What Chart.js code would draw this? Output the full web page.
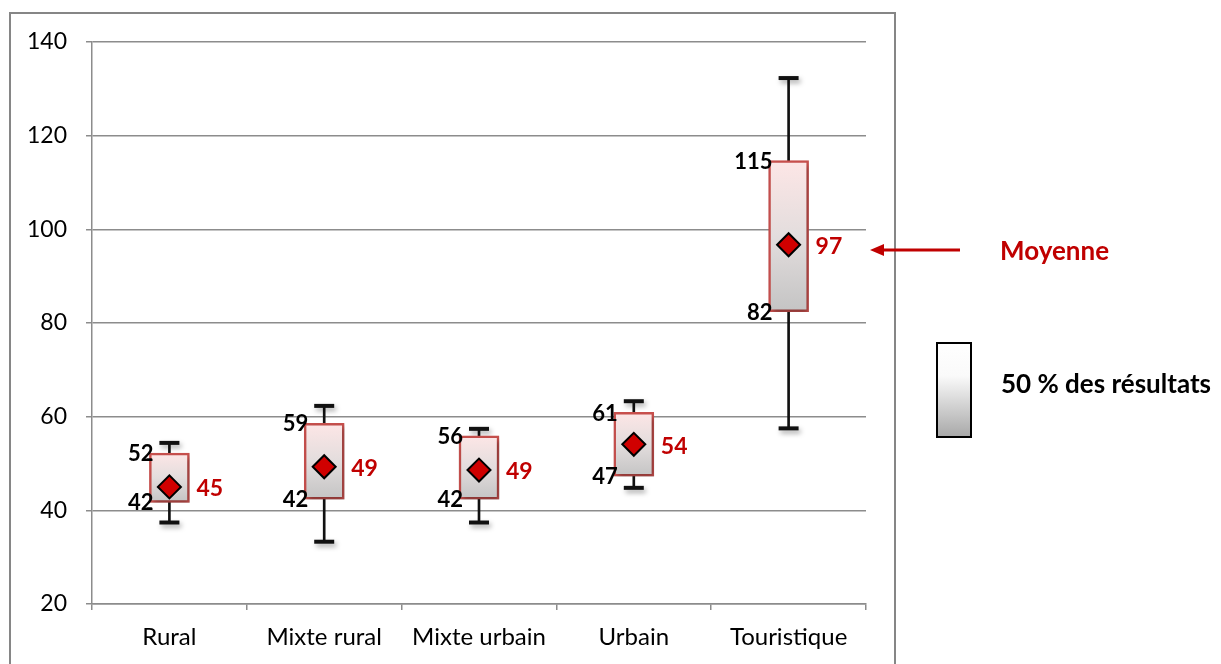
<!DOCTYPE html>
<html><head><meta charset="utf-8">
<script src="https://cdn.jsdelivr.net/npm/chart.js@4.4.1/dist/chart.umd.min.js"></script>
<style>html,body{margin:0;padding:0;background:#fff;} #wrap{width:1221px;height:664px;}</style>
</head><body><div id="wrap"><canvas id="c" width="1221" height="664"></canvas></div>
<script>
const categories = ['Rural', 'Mixte rural', 'Mixte urbain', 'Urbain', 'Touristique'];
const whiskerLow = [37.4, 33.3, 37.4, 44.8, 57.5];
const quartile1 = [41.7, 42.4, 42.4, 47.3, 82.4];
const quartile3 = [52.2, 58.6, 55.9, 60.9, 114.7];
const whiskerHigh = [54.4, 62.3, 57.4, 63.3, 132.3];
const means = [45.0, 49.3, 48.6, 54.1, 96.7];
const yTicks = [20, 40, 60, 80, 100, 120, 140];
const legendMean = 'Moyenne';
const legendBox = '50 % des résultats';

const FONT = 'Lato, "Open Sans", sans-serif';
const RED = '#c00000';

const shadowPlugin = {
  id: 'shadow',
  beforeDatasetDraw(chart, args) {
    if (args.index >= 1 && args.index <= 3) {
      const c = chart.ctx; c.save();
      c.shadowColor = 'rgba(0,0,0,0.35)'; c.shadowBlur = 5; c.shadowOffsetX = 2; c.shadowOffsetY = 3;
    }
  },
  afterDatasetDraw(chart, args) {
    if (args.index >= 1 && args.index <= 3) chart.ctx.restore();
  }
};

const labelPlugin = {
  id: 'labels',
  afterDatasetsDraw(chart) {
    const c = chart.ctx, xs = chart.scales.x, ys = chart.scales.y;
    c.save();
    c.textBaseline = 'middle';
    categories.forEach((cat, i) => {
      const x = xs.getPixelForValue(i);
      c.fillStyle = '#000'; c.font = 'bold 22px ' + FONT; c.textAlign = 'right';
      c.fillText(String(Math.round(quartile3[i])), x - 16, ys.getPixelForValue(quartile3[i]) + 1);
      c.fillText(String(Math.round(quartile1[i])), x - 16, ys.getPixelForValue(quartile1[i]) + 1);
      c.fillStyle = RED; c.font = 'bold 23px ' + FONT; c.textAlign = 'left';
      c.fillText(String(Math.round(means[i])), x + 27, ys.getPixelForValue(means[i]) + 2);
    });
    c.restore();
  },
  afterDraw(chart) {
    const c = chart.ctx;
    c.save();
    // outer frame
    c.strokeStyle = '#868686'; c.lineWidth = 2;
    c.strokeRect(10, 13, 885, 700);
    // arrow for mean
    c.strokeStyle = RED; c.lineWidth = 3;
    c.beginPath(); c.moveTo(960, 250); c.lineTo(880, 250); c.stroke();
    c.fillStyle = RED;
    c.beginPath(); c.moveTo(870, 250); c.lineTo(884, 244); c.lineTo(884, 256); c.closePath(); c.fill();
    c.font = 'bold 26px ' + FONT; c.textBaseline = 'middle'; c.textAlign = 'left';
    c.fillText(legendMean, 1000, 252);
    // legend box
    const g = c.createLinearGradient(0, 343, 0, 437);
    g.addColorStop(0, '#ffffff'); g.addColorStop(0.35, '#fafafa'); g.addColorStop(1, '#a8a8a8');
    c.fillStyle = g; c.fillRect(937, 343, 34, 94);
    c.strokeStyle = '#000'; c.lineWidth = 2; c.strokeRect(937, 343, 34, 94);
    c.fillStyle = '#000'; c.font = 'bold 26px ' + FONT;
    c.fillText(legendBox, 1001, 385);
    c.restore();
  }
};

new Chart(document.getElementById('c'), {
  type: 'bar',
  data: {
    labels: categories,
    datasets: [
      {
        type: 'line', data: means, showLine: false, order: 0,
        pointStyle: 'rectRot', pointRadius: 11.5, pointHoverRadius: 11.5,
        pointBackgroundColor: '#d00000', pointBorderColor: '#000', pointBorderWidth: 2
      },
      {
        type: 'bar', data: quartile1.map((q, i) => [q, quartile3[i]]), order: 1,
        grouped: false, barThickness: 40, borderWidth: 2.5, borderColor: '#c8504d', borderSkipped: false,
        backgroundColor: (ctx) => {
          const ch = ctx.chart, ys = ch.scales.y;
          if (ctx.type !== 'data' || !ys || !Array.isArray(ctx.raw)) return '#e0e0e0';
          const top = ys.getPixelForValue(ctx.raw[1]), bot = ys.getPixelForValue(ctx.raw[0]);
          if (!isFinite(top) || !isFinite(bot) || top === bot) return '#e0e0e0';
          const g = ch.ctx.createLinearGradient(0, top, 0, bot);
          g.addColorStop(0, '#fde6e6'); g.addColorStop(0.5, '#e3dddd'); g.addColorStop(1, '#c4c4c4');
          return g;
        }
      },
      {
        type: 'line', data: whiskerHigh, showLine: false, order: 2,
        pointStyle: 'line', pointRadius: 10, pointHoverRadius: 10,
        pointBorderColor: '#111', pointBorderWidth: 4
      },
      {
        type: 'line', data: whiskerLow, showLine: false, order: 3,
        pointStyle: 'line', pointRadius: 10, pointHoverRadius: 10,
        pointBorderColor: '#111', pointBorderWidth: 4
      },
      {
        type: 'bar', data: whiskerLow.map((v, i) => [v, whiskerHigh[i]]), order: 4,
        grouped: false, barThickness: 2, backgroundColor: '#111', borderWidth: 0
      }
    ]
  },
  options: {
    responsive: false, animation: false,
    layout: { padding: { left: 0, right: 355, top: 42, bottom: 0 } },
    plugins: { legend: { display: false }, tooltip: { enabled: false } },
    scales: {
      x: {
        offset: true,
        afterFit: (s) => { s.height = 60; },
        grid: { offset: true, drawOnChartArea: false, drawTicks: true, tickLength: 6, color: '#8c8c8c', lineWidth: 1.5 },
        border: { color: '#8c8c8c', width: 1.5 },
        ticks: { color: '#000', font: { family: FONT, size: 24 }, padding: 13, maxRotation: 0, autoSkip: false }
      },
      y: {
        min: 20, max: 140,
        afterFit: (s) => { s.width = 92; },
        afterBuildTicks: (s) => { s.ticks = yTicks.map(v => ({ value: v })); },
        grid: { color: '#8c8c8c', lineWidth: 1.5, tickLength: 6 },
        border: { color: '#8c8c8c', width: 1.5 },
        ticks: { color: '#000', font: { family: FONT, size: 23 }, padding: 19 }
      }
    }
  },
  plugins: [shadowPlugin, labelPlugin]
});
</script>
</body></html>
